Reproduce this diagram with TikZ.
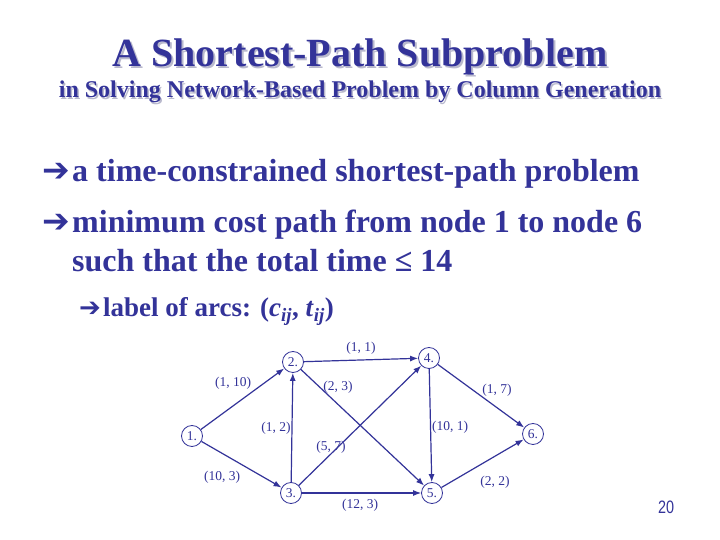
\documentclass[tikz,border=0pt]{standalone}
\usepackage{fontspec}
\setmainfont{Liberation Serif}
\newfontfamily\arrowfont{DejaVu Sans}
\newfontfamily\pagefont{Liberation Sans}
\usetikzlibrary{arrows.meta}
\definecolor{navy}{RGB}{51,51,153}
\definecolor{shade}{RGB}{185,185,205}
\newcommand{\shadowed}[2]{\makebox[0pt][l]{\hspace{#1}\raisebox{-#1}{\textcolor{shade}{#2}}}\textcolor{navy}{#2}}

\begin{document}
\begin{tikzpicture}[x=1pt, y=1pt,
        vertex/.style={circle, draw=navy, line width=0.8pt, minimum size=21pt, inner sep=0pt, text=navy, font=\fontsize{13.5}{15}\selectfont},
        arc/.style={-{Latex[length=8pt,width=6pt]}, draw=navy, line width=1.2pt},
        weight/.style={text=navy, inner sep=1pt, font=\fontsize{13.5}{16}\selectfont},
        title/.style={inner sep=0pt, anchor=base, font=\fontsize{40}{48}\selectfont\bfseries},
        subtitle/.style={inner sep=0pt, anchor=base, font=\fontsize{24}{29}\selectfont\bfseries},
        item/.style={inner sep=0pt, anchor=base west, text=navy, font=\fontsize{32}{38}\selectfont\bfseries},
        subitem/.style={inner sep=0pt, anchor=base west, text=navy, font=\fontsize{27}{32}\selectfont\bfseries},
        tip/.style={inner sep=0pt, anchor=base east, text=navy}]
    \fill[white] (0,0) rectangle (720,540);
    \useasboundingbox (0,0) rectangle (720,540);

    \node[title] (T) at (360,473) {\shadowed{2pt}{A Shortest-Path Subproblem}};
    \node[subtitle] (S) at (360,442) {\shadowed{1.5pt}{in Solving Network-Based Problem by Column Generation}};

    \node[item] (I1) at (72,358) {a time-constrained shortest-path problem};
    \node[tip, font=\arrowfont\fontsize{33}{38}\selectfont] (A1) at (70,358) {➔};
    \node[item] (I2) at (72,307) {minimum cost path from node 1 to node 6};
    \node[tip, font=\arrowfont\fontsize{33}{38}\selectfont] (A2) at (70,307) {➔};
    \node[item] (I3) at (72,268) {such that the total time ≤ 14};
    \node[subitem] (I4) at (103,223) {label of arcs: (\textit{c}\textsubscript{\textit{ij}}, \textit{t}\textsubscript{\textit{ij}})};
    \node[tip, font=\arrowfont\fontsize{26}{30}\selectfont] (A4) at (101,223) {➔};

    \node[vertex] (n1) at (192,104) {1.};
    \node[vertex] (n2) at (293,178) {2.};
    \node[vertex] (n3) at (291,47) {3.};
    \node[vertex] (n4) at (429,182) {4.};
    \node[vertex] (n5) at (432,47) {5.};
    \node[vertex] (n6) at (533,106) {6.};

    \draw[arc] (n1) -- (n2);
    \draw[arc] (n1) -- (n3);
    \draw[arc] (n2) -- (n4);
    \draw[arc] (n2) -- (n5);
    \draw[arc] (n3) -- (n2);
    \draw[arc] (n3) -- (n4);
    \draw[arc] (n3) -- (n5);
    \draw[arc] (n4) -- (n5);
    \draw[arc] (n4) -- (n6);
    \draw[arc] (n5) -- (n6);

    \node[weight] (w12) at (233,157) {(1, 10)};
    \node[weight] (w13) at (222,63) {(10, 3)};
    \node[weight] (w24) at (361,192) {(1, 1)};
    \node[weight] (w25) at (338,153) {(2, 3)};
    \node[weight] (w32) at (276,112) {(1, 2)};
    \node[weight] (w34) at (331,93) {(5, 7)};
    \node[weight] (w35) at (360,35) {(12, 3)};
    \node[weight] (w45) at (450,113) {(10, 1)};
    \node[weight] (w46) at (497,150) {(1, 7)};
    \node[weight] (w56) at (495,58) {(2, 2)};

    \node[inner sep=0pt, text=navy, font=\pagefont\fontsize{18}{20}\selectfont, xscale=0.8] (pg) at (666,33) {20};
\end{tikzpicture}
\end{document}
